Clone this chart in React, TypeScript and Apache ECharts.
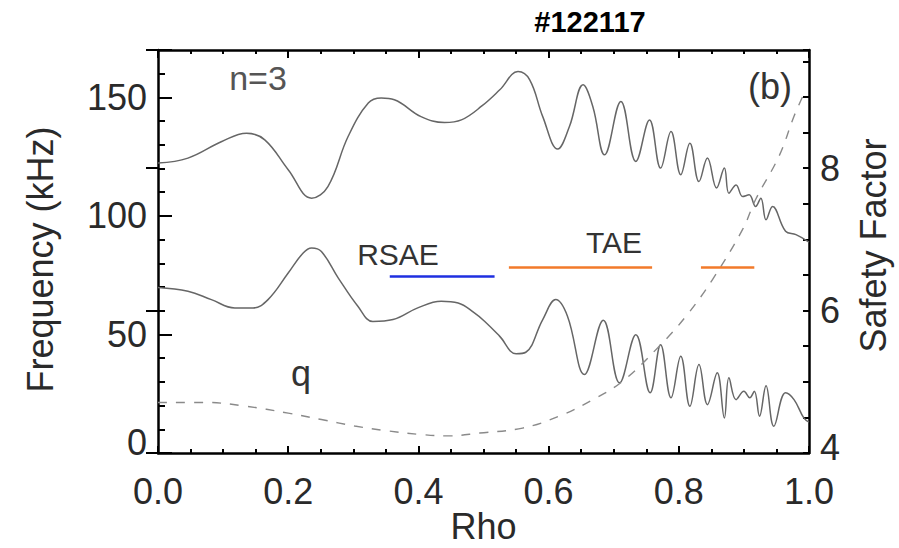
import React, { useEffect, useRef } from "react";
import * as echarts from "echarts";

// ---- data ----
const upperBranch: [number, number][] = [
  [0, 122.3], [0.046, 124.4], [0.098, 131.4], [0.136, 134.9], [0.164, 132.1],
  [0.2, 119.5], [0.236, 107.5], [0.261, 112.4], [0.292, 133.5], [0.323, 147.6],
  [0.343, 149.7], [0.363, 149], [0.404, 141.9], [0.44, 139.4], [0.466, 140.5],
  [0.498, 146.5], [0.525, 153.2], [0.553, 160.9], [0.571, 157.4], [0.591, 141.9],
  [0.614, 128.2], [0.632, 137.7], [0.653, 155.3], [0.668, 146.1], [0.686, 125.8],
  [0.711, 148.3], [0.734, 123], [0.755, 140.5], [0.772, 120.2], [0.788, 135.6],
  [0.803, 117.4], [0.817, 130.7], [0.831, 114.5], [0.844, 124.4], [0.858, 111.8],
  [0.87, 120.2], [0.877, 109.6], [0.888, 113.1], [0.898, 108.2], [0.908, 108.9],
  [0.918, 104], [0.926, 107.5], [0.934, 98.4], [0.944, 104], [0.964, 93.5],
  [0.98, 92.1], [1.0, 89],
];

const lowerBranch: [number, number][] = [
  [0, 69.8], [0.046, 68.2], [0.082, 64.7], [0.118, 61.2], [0.146, 61.2],
  [0.169, 64.7], [0.2, 75.9], [0.223, 84.4], [0.236, 86.5], [0.251, 85],
  [0.277, 73.8], [0.307, 61.9], [0.33, 55.5], [0.361, 56.3], [0.399, 61.2],
  [0.435, 64], [0.461, 63.3], [0.486, 59.1], [0.502, 55.5], [0.525, 49.2],
  [0.55, 41.9], [0.565, 42.5], [0.591, 56.3], [0.611, 64.7], [0.629, 57.7],
  [0.655, 33.1], [0.684, 56], [0.709, 29.6], [0.734, 49.9], [0.756, 25.4],
  [0.772, 45.7], [0.788, 23.3], [0.803, 40.8], [0.817, 19.7], [0.831, 37.3],
  [0.844, 20.4], [0.859, 33.8], [0.87, 14.8], [0.877, 31.7], [0.888, 22.5],
  [0.9, 26], [0.909, 23.3], [0.916, 26], [0.924, 15.5], [0.934, 28.4],
  [0.946, 11.3], [0.964, 25.4], [0.977, 22.5], [0.992, 14.8], [1.0, 13],
];

const qProfile: [number, number][] = [
  [0, 4.71], [0.072, 4.71], [0.133, 4.66], [0.2, 4.56], [0.251, 4.47],
  [0.302, 4.38], [0.353, 4.31], [0.404, 4.26], [0.445, 4.24], [0.494, 4.28],
  [0.56, 4.35], [0.617, 4.52], [0.668, 4.75], [0.714, 5.01], [0.77, 5.5],
  [0.811, 5.92], [0.852, 6.44], [0.898, 7.14], [0.918, 7.56], [0.954, 8.17],
  [0.977, 8.73], [0.99, 9.0],
];

const rsaeRange: [number, number][] = [[0.356, 74.5], [0.517, 74.5]];
const taeRange1: [number, number][] = [[0.539, 78.3], [0.759, 78.3]];
const taeRange2: [number, number][] = [[0.834, 78.3], [0.916, 78.3]];

const freqTickLabels = [0, 50, 100, 150];
const qTickLabels = [4, 6, 8];

const FONT = "'Liberation Sans', Arial, Helvetica, sans-serif";
const LABEL_COLOR = "#2a2a2a";

export default function App() {
  const ref = useRef<HTMLDivElement>(null);

  useEffect(() => {
    if (!ref.current) return;
    const chart = echarts.init(ref.current, undefined, { renderer: "svg" });

    const axisLine = { show: true, onZero: false, lineStyle: { color: "#000", width: 2.5 } };

    const option: any = {
      animation: false,
      textStyle: { fontFamily: FONT },
      grid: { left: 158, right: 90, top: 50, bottom: 95, outerBoundsMode: "none", containLabel: false },
      xAxis: [
        {
          type: "value", position: "bottom", min: 0, max: 1, interval: 0.2,
          axisLine,
          axisTick: { show: true, inside: true, length: 7, lineStyle: { color: "#000", width: 2 } },
          minorTick: { show: true, splitNumber: 4, length: 4, lineStyle: { color: "#000", width: 2 } },
          splitLine: { show: false },
          axisLabel: { fontSize: 36, color: LABEL_COLOR, margin: 20, fontFamily: FONT, formatter: (v: number) => v.toFixed(1) },
          name: "Rho", nameLocation: "middle", nameGap: 55, nameMoveOverlap: false,
          nameTextStyle: { fontSize: 36, color: LABEL_COLOR, fontFamily: FONT },
        },
        {
          type: "value", position: "top", min: 0, max: 1, interval: 0.2,
          axisLine,
          axisTick: { show: true, inside: true, length: 8, lineStyle: { color: "#000", width: 2 } },
          minorTick: { show: true, splitNumber: 4, length: 4, lineStyle: { color: "#000", width: 2 } },
          splitLine: { show: false },
          axisLabel: { show: false },
        },
      ],
      yAxis: [
        {
          type: "value", position: "left", min: 0, max: 170, interval: 10,
          axisLine,
          axisTick: { show: true, inside: true, length: 7, lineStyle: { color: "#000", width: 2 } },
          splitLine: { show: false },
          axisLabel: {
            fontSize: 36, color: LABEL_COLOR, margin: 11, fontFamily: FONT,
            formatter: (v: number) =>
              v === 0 ? "{z|0}" : freqTickLabels.indexOf(v) >= 0 ? String(v) : "",
            rich: { z: { fontSize: 36, color: LABEL_COLOR, fontFamily: FONT, padding: [0, 0, 22, 0] } },
          },
          name: "Frequency (kHz)", nameLocation: "middle", nameGap: 100, nameRotate: 90, nameMoveOverlap: false,
          nameTextStyle: { fontSize: 36, color: LABEL_COLOR, fontFamily: FONT, padding: [0, 16, 0, 0] },
        },
        {
          type: "value", position: "right", min: 4, max: 9.66, interval: 0.5,
          axisLine,
          axisTick: { show: true, inside: true, length: 6, lineStyle: { color: "#000", width: 2 } },
          splitLine: { show: false },
          axisLabel: {
            fontSize: 36, color: LABEL_COLOR, margin: 11, fontFamily: FONT,
            formatter: (v: number) =>
              v === 4 ? "{z|4}" : qTickLabels.indexOf(v) >= 0 ? String(v) : "",
            rich: { z: { fontSize: 36, color: LABEL_COLOR, fontFamily: FONT, padding: [0, 0, 12, 0] } },
          },
          name: "Safety Factor", nameLocation: "middle", nameGap: 46, nameRotate: 90, nameMoveOverlap: false,
          nameTextStyle: { fontSize: 36, color: LABEL_COLOR, fontFamily: FONT, padding: [0, 0, 0, 12] },
        },
        {
          type: "value", position: "left", min: 0, max: 170, interval: 50,
          axisLine: { show: false },
          axisTick: { show: true, inside: true, length: 14, lineStyle: { color: "#000", width: 2 } },
          splitLine: { show: false },
          axisLabel: { show: false },
        },
        {
          type: "value", position: "right", min: 4, max: 9.66, interval: 2,
          axisLine: { show: false },
          axisTick: { show: true, inside: true, length: 12, lineStyle: { color: "#000", width: 2 } },
          splitLine: { show: false },
          axisLabel: { show: false },
        },
      ],
      series: [
        {
          name: "upper", type: "line", xAxisIndex: 0, yAxisIndex: 0, data: upperBranch,
          showSymbol: false, smooth: 0.4, lineStyle: { color: "#666", width: 1.5 },
        },
        {
          name: "lower", type: "line", xAxisIndex: 0, yAxisIndex: 0, data: lowerBranch,
          showSymbol: false, smooth: 0.4, lineStyle: { color: "#666", width: 1.5 },
        },
        {
          name: "q", type: "line", xAxisIndex: 0, yAxisIndex: 1, data: qProfile,
          showSymbol: false, smooth: 0.4, lineStyle: { color: "#8a8a8a", width: 1.4, type: [9, 9] },
        },
        {
          name: "RSAE", type: "line", xAxisIndex: 0, yAxisIndex: 0, data: rsaeRange,
          showSymbol: false, lineStyle: { color: "#1f2fe0", width: 2.5 },
        },
        {
          name: "TAE1", type: "line", xAxisIndex: 0, yAxisIndex: 0, data: taeRange1,
          showSymbol: false, lineStyle: { color: "#f27a2a", width: 2.5 },
        },
        {
          name: "TAE2", type: "line", xAxisIndex: 0, yAxisIndex: 0, data: taeRange2,
          showSymbol: false, lineStyle: { color: "#f27a2a", width: 2.5 },
        },
      ],
      graphic: [
        { type: "text", x: 590, y: 22, style: { text: "#122117", font: `bold 29px ${FONT}`, fill: "#000", align: "center", verticalAlign: "middle" } },
        { type: "text", x: 258, y: 78, style: { text: "n=3", font: `34px ${FONT}`, fill: "#555", align: "center", verticalAlign: "middle" } },
        { type: "text", x: 770, y: 86, style: { text: "(b)", font: `36px ${FONT}`, fill: "#333", align: "center", verticalAlign: "middle" } },
        { type: "text", x: 301, y: 373, style: { text: "q", font: `36px ${FONT}`, fill: "#333", align: "center", verticalAlign: "middle" } },
        { type: "text", x: 398, y: 254, style: { text: "RSAE", font: `30px ${FONT}`, fill: "#333", align: "center", verticalAlign: "middle" } },
        { type: "text", x: 614, y: 242, style: { text: "TAE", font: `30px ${FONT}`, fill: "#333", align: "center", verticalAlign: "middle" } },
      ],
    };

    chart.setOption(option);
    return () => chart.dispose();
  }, []);

  return (
    <div
      ref={ref}
      style={{ position: "absolute", left: 0, top: 0, width: 899, height: 548, background: "#fff" }}
    />
  );
}
